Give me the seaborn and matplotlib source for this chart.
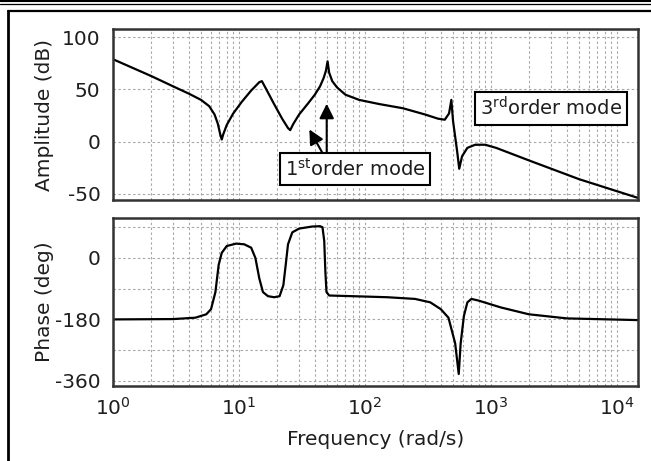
import numpy as np
import pandas as pd
import matplotlib
matplotlib.use("Agg")
import matplotlib.pyplot as plt
from matplotlib.lines import Line2D
import seaborn as sns

# ---- data ----
amp_freq = [1.0, 2.0, 3.0, 4.0, 5.0, 5.8, 6.4, 6.8, 7.1, 7.3, 7.5, 8.0, 9.0,
            10.5, 12.5, 14.5, 15.2, 16.5, 19, 22, 24.5, 25.5, 27, 30, 35, 40, 44,
            47, 49, 50.5, 52, 55, 60, 70, 90, 130, 200, 300, 380, 430, 465, 485,
            500, 540, 560, 590, 650, 750, 900, 1100, 2000, 5000, 14700]
amp_db = [79, 63, 53, 46, 40, 34, 26, 17, 7, 2, 7, 16, 27,
          38, 49, 57, 58, 50, 36, 22, 13, 11, 17, 26, 36, 45, 53,
          61, 68, 77, 66, 58, 52, 45, 40, 36, 32, 26, 22, 21, 27, 40,
          20, -10, -26, -14, -6, -3, -3, -6, -18, -36, -54]

ph_freq = [1.0, 3.0, 4.5, 5.5, 6.0, 6.5, 6.9, 7.3, 8.0, 9.5, 11, 12.5, 13.5, 14.5,
           15.5, 17, 19, 21, 22.5, 23.5, 24.5, 26.5, 30, 38, 44, 46, 47.5, 48.5,
           49.5, 52, 80, 150, 250, 330, 400, 460, 520, 555, 575, 610, 650, 700,
           800, 1200, 2000, 4000, 14700]
ph_deg = [-180, -179, -175, -165, -150, -100, -20, 15, 35, 42, 40, 30, 0, -60,
          -100, -112, -115, -112, -80, -20, 40, 75, 86, 92, 93, 90, 50, -40,
          -100, -110, -112, -115, -120, -130, -150, -175, -250, -340, -250, -170, -130, -120,
          -125, -145, -165, -177, -182]

amp_ticks = [-50, 0, 50, 100]
ph_ticks = [-360, -180, 0]
ph_grid = [-270, -90, 90]
x_ticks = [1, 10, 100, 1000, 10000]

amp_df = pd.DataFrame({"freq": amp_freq, "amp": amp_db})
ph_df = pd.DataFrame({"freq": ph_freq, "phase": ph_deg})

sns.set_theme(style="white")
plt.rcParams["font.family"] = ["DejaVu Sans"]
plt.rcParams["mathtext.fontset"] = "dejavusans"
plt.rcParams["axes.unicode_minus"] = False

W, H = 651, 461
fig = plt.figure(figsize=(W / 100, H / 100), dpi=100)
fig.patch.set_facecolor("white")

def frac(x0, y0, x1, y1):
    return [x0 / W, 1 - y1 / H, (x1 - x0) / W, (y1 - y0) / H]

ax1 = fig.add_axes(frac(113, 29, 638, 200))
ax2 = fig.add_axes(frac(113, 218, 638, 386))

txt_col = "#1e1e1e"
fs = 14.5
grid_kw = dict(color="#a8a8a8", linestyle=(0, (2.2, 2.2)), linewidth=0.8)

sns.lineplot(data=amp_df, x="freq", y="amp", ax=ax1, color="black", lw=1.6, sort=False)
sns.lineplot(data=ph_df, x="freq", y="phase", ax=ax2, color="black", lw=1.6, sort=False)

for ax in (ax1, ax2):
    ax.set_xscale("log")
    ax.set_xlim(1, 14700)
    ax.set_xticks(x_ticks)
    ax.grid(True, which="major", axis="both", **grid_kw)
    ax.grid(True, which="minor", axis="x", **grid_kw)
    ax.tick_params(axis="both", which="both", length=0, colors=txt_col, labelsize=fs, pad=9)
    ax.tick_params(axis="x", pad=8)
    for s in ax.spines.values():
        s.set_color("#333333")
        s.set_linewidth(1.8)
    ax.set_axisbelow(True)

ax1.set_ylim(-56, 108)
ax1.set_yticks(amp_ticks)
ax1.set_xticklabels([])
ax1.set_xlabel("")
ax1.set_ylabel("Amplitude (dB)", fontsize=fs, color=txt_col)
ax1.yaxis.set_label_coords(-0.113, 0.5)

ax2.set_ylim(-375, 117)
ax2.set_yticks(ph_ticks)
ax2.set_yticks(ph_grid, minor=True)
ax2.grid(True, which="minor", axis="y", **grid_kw)
ax2.set_ylabel("Phase (deg)", fontsize=fs, color=txt_col)
ax2.yaxis.set_label_coords(-0.113, 0.5)
ax2.set_xlabel("Frequency (rad/s)", fontsize=fs, color=txt_col, labelpad=8)

# annotations
box = dict(boxstyle="square,pad=0.25", fc="white", ec="black", lw=1.5)
ax1.text(83, -26, r"1$^{\rm st}$order mode", ha="center", va="center",
         fontsize=14, color=txt_col, bbox=box, zorder=5)
ax1.text(3000, 32, r"3$^{\rm rd}$order mode", ha="center", va="center",
         fontsize=14, color=txt_col, bbox=box, zorder=5)
arrow = dict(arrowstyle="-|>", color="black", lw=1.5, mutation_scale=22)
ax1.annotate("", xy=(49.7, 39), xytext=(49.7, -13), arrowprops=arrow, zorder=6)
ax1.annotate("", xy=(35.3, 14), xytext=(47, -13), arrowprops=arrow, zorder=6)

# screenshot frame lines
fig.add_artist(Line2D([0, 1], [1 - 0.8 / H, 1 - 0.8 / H], color="black", lw=1.5))
fig.add_artist(Line2D([0, 1], [1 - 4 / H, 1 - 4 / H], color="black", lw=0.9))
fig.add_artist(Line2D([8 / W, 1], [1 - 11 / H, 1 - 11 / H], color="black", lw=1.6))
fig.add_artist(Line2D([8 / W, 8 / W], [0, 1 - 11 / H], color="black", lw=2.0))

fig.savefig("out.png", dpi=100)
